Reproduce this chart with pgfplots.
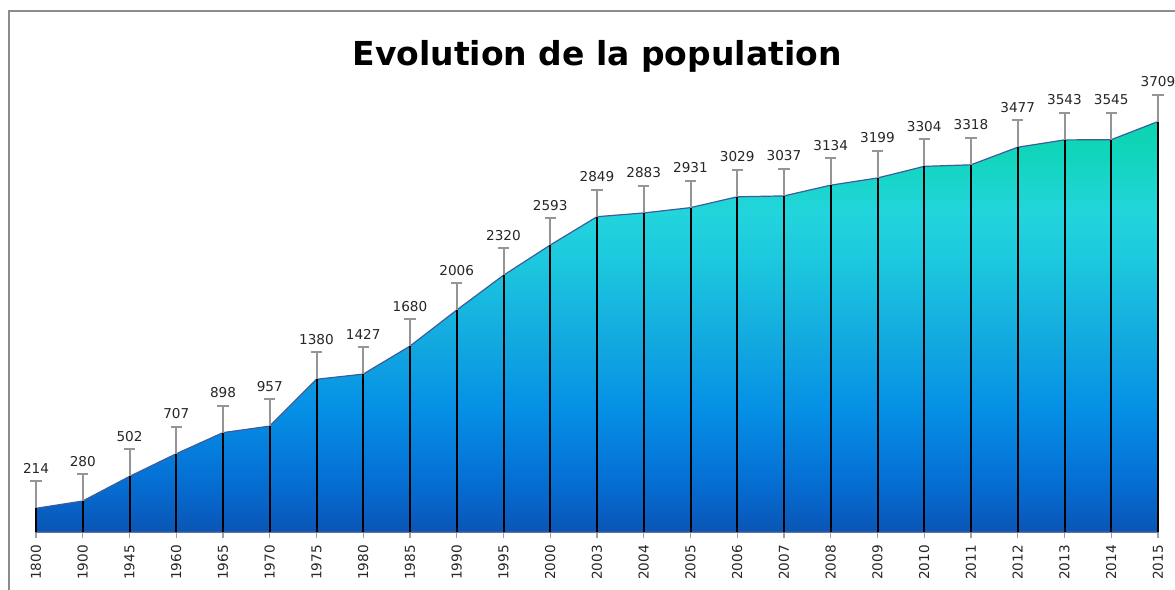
\documentclass[border=0pt]{standalone}
\usepackage{pgfplots}
\usepackage{pgfplotstable}
\pgfplotsset{compat=1.18}
\usepackage{fontspec}
\setmainfont{DejaVu Sans}
\definecolor{g0}{HTML}{0A55B5}
\definecolor{g1}{HTML}{0570D5}
\definecolor{g2}{HTML}{0590E5}
\definecolor{g3}{HTML}{12A8E0}
\definecolor{g4}{HTML}{1CC8DE}
\definecolor{g5}{HTML}{22D5DC}
\definecolor{g6}{HTML}{12D5BE}
\definecolor{g7}{HTML}{0CD4AE}
\definecolor{framegray}{HTML}{8C8C8C}
\definecolor{axgray}{HTML}{A0A0A0}
\definecolor{barcol}{HTML}{959595}
\definecolor{edgecol}{HTML}{3C5C9C}
\pgfdeclareverticalshading{popgrad}{100bp}{color(0bp)=(g0); color(25bp)=(g0); color(31.5bp)=(g1); color(40bp)=(g2); color(48bp)=(g3); color(58bp)=(g4); color(64bp)=(g5); color(70.5bp)=(g6); color(75bp)=(g7); color(100bp)=(g7)}
\pgfplotstableread{
x y
0 214
1 280
2 502
3 707
4 898
5 957
6 1380
7 1427
8 1680
9 2006
10 2320
11 2593
12 2849
13 2883
14 2931
15 3029
16 3037
17 3134
18 3199
19 3304
20 3318
21 3477
22 3543
23 3545
24 3709
}\popdata
\begin{document}
\begin{tikzpicture}
\path[use as bounding box] (0,0) rectangle (587.5pt,295pt);
\draw[framegray, line width=1pt] (4.5pt,0) -- (4.5pt,289.5pt) -- (590pt,289.5pt);
\node[anchor=base, font=\fontsize{16.5}{19}\selectfont\bfseries, inner sep=0pt] at (298.5pt,262pt) {Evolution de la population};
\begin{axis}[
  at={(18pt,29pt)}, anchor=south west,
  width=561pt, height=249pt, scale only axis,
  xmin=0, xmax=24, ymin=0, ymax=4500,
  axis y line=none, axis x line=bottom,
  x axis line style={-, draw=axgray, line width=0.8pt},
  xtick={0,...,24},
  xticklabels={1800,1900,1945,1960,1965,1970,1975,1980,1985,1990,1995,2000,2003,2004,2005,2006,2007,2008,2009,2010,2011,2012,2013,2014,2015},
  x tick label style={rotate=90, anchor=east, font=\fontsize{6.8}{8}\selectfont, text=black!85},
  tick align=outside, major tick length=3pt,
  tick style={axgray, line width=0.6pt},
  clip=false,
]
\addplot[draw=edgecol, line width=0.6pt, shading=popgrad] table[x=x,y=y]{\popdata} \closedcycle;
\addplot[ycomb, black, line width=1pt, mark=none] table[x=x,y=y]{\popdata};
\addplot[draw=none, mark=none,
  error bars/.cd, y dir=plus, y fixed=244,
  error mark=|,
  error bar style={draw=barcol, line width=1pt},
  error mark options={draw=barcol, line width=1pt, mark size=2.8pt}]
  table[x=x,y=y]{\popdata};
\addplot[draw=none, mark=none, nodes near coords, point meta=explicit symbolic,
  every node near coord/.append style={anchor=base, yshift=17.5pt, inner sep=0pt, font=\fontsize{6.8}{8}\selectfont, text=black!85}]
  table[x=x,y=y,meta=y]{\popdata};
\end{axis}
\end{tikzpicture}
\end{document}
